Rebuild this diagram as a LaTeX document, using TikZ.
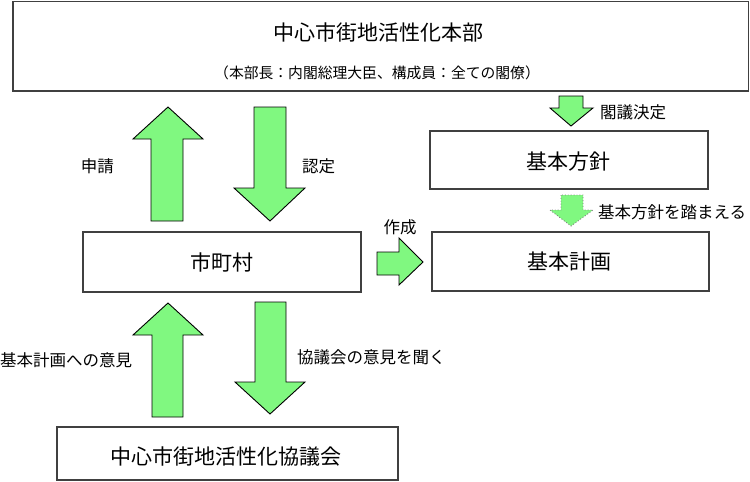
\documentclass[tikz,border=0pt]{standalone}
\usepackage{fontspec}
\setmainfont{Noto Sans CJK JP}
\definecolor{boxline}{HTML}{404040}
\definecolor{arrowgreen}{HTML}{80F880}
\tikzset{
  box/.style={draw=boxline, line width=1.6pt, fill=white},
  blockarrow/.style={draw=black, line width=0.9pt, line join=miter, fill=arrowgreen},
  dotarrow/.style={draw=black!50, line width=0.9pt, dotted, fill=arrowgreen},
  bigtext/.style={font=\fontsize{21}{24}\selectfont, inner sep=0pt},
  subtext/.style={font=\fontsize{14.8}{17}\selectfont, inner sep=0pt},
  lbl/.style={font=\fontsize{16.5}{19}\selectfont, inner sep=0pt},
}
\begin{document}
\begin{tikzpicture}[x=1pt, y=-1pt]
\useasboundingbox[fill=white] (0,0) rectangle (750,482);

% boxes
\draw[box] (13,1.5) rectangle (748.5,91);
\node[bigtext] (honbu) at (378,32) {中心市街地活性化本部};
\node[subtext] (member) at (377,73) {（本部長：内閣総理大臣、構成員：全ての閣僚）};

\draw[box] (430,131) rectangle (708,189);
\node[bigtext] (houshin) at (568,162) {基本方針};

\draw[box] (432,232) rectangle (709,291);
\node[bigtext] (keikaku) at (569,262) {基本計画};

\draw[box] (83,232) rectangle (361,292);
\node[bigtext] (shichoson) at (222,262) {市町村};

\draw[box] (57,427) rectangle (398,480);
\node[bigtext] (kyogikai) at (226,457) {中心市街地活性化協議会};

% arrows between honbu and shichoson
\draw[blockarrow] (151,221) -- (151,139) -- (133,139) -- (168,107) -- (203,139) -- (183,139) -- (183,221) -- cycle;
\draw[blockarrow] (254,107) -- (254,188) -- (234,188) -- (270,221) -- (305,188) -- (286,188) -- (286,107) -- cycle;
\node[lbl, anchor=east] (shinsei) at (114,166) {申請};
\node[lbl, anchor=west] (nintei) at (302,166) {認定};

% arrows between shichoson and kyogikai
\draw[blockarrow] (152,417) -- (152,335) -- (133,335) -- (168,303) -- (203,335) -- (183,335) -- (183,417) -- cycle;
\draw[blockarrow] (255,302) -- (255,382) -- (235,382) -- (270,414) -- (305,382) -- (286,382) -- (286,302) -- cycle;
\node[lbl, anchor=west] (iken) at (0,360) {基本計画への意見};
\node[lbl, anchor=west] (kiku) at (297,357) {協議会の意見を聞く};

% cabinet decision arrow
\draw[blockarrow] (559,96) -- (559,108) -- (550,108) -- (571,126) -- (593,108) -- (583,108) -- (583,96) -- cycle;
\node[lbl, anchor=west] (kakugi) at (600,112) {閣議決定};

% dotted arrow
\draw[dotarrow] (561,195) -- (561,210) -- (550,210) -- (571,226) -- (593,210) -- (583,210) -- (583,195) -- cycle;
\node[lbl, anchor=west] (fumaeru) at (598,212) {基本方針を踏まえる};

% create arrow
\draw[blockarrow] (377,252) -- (399,252) -- (399,238) -- (423,262) -- (399,285) -- (399,275) -- (377,275) -- cycle;
\node[lbl] (sakusei) at (400,227) {作成};
\end{tikzpicture}
\end{document}
